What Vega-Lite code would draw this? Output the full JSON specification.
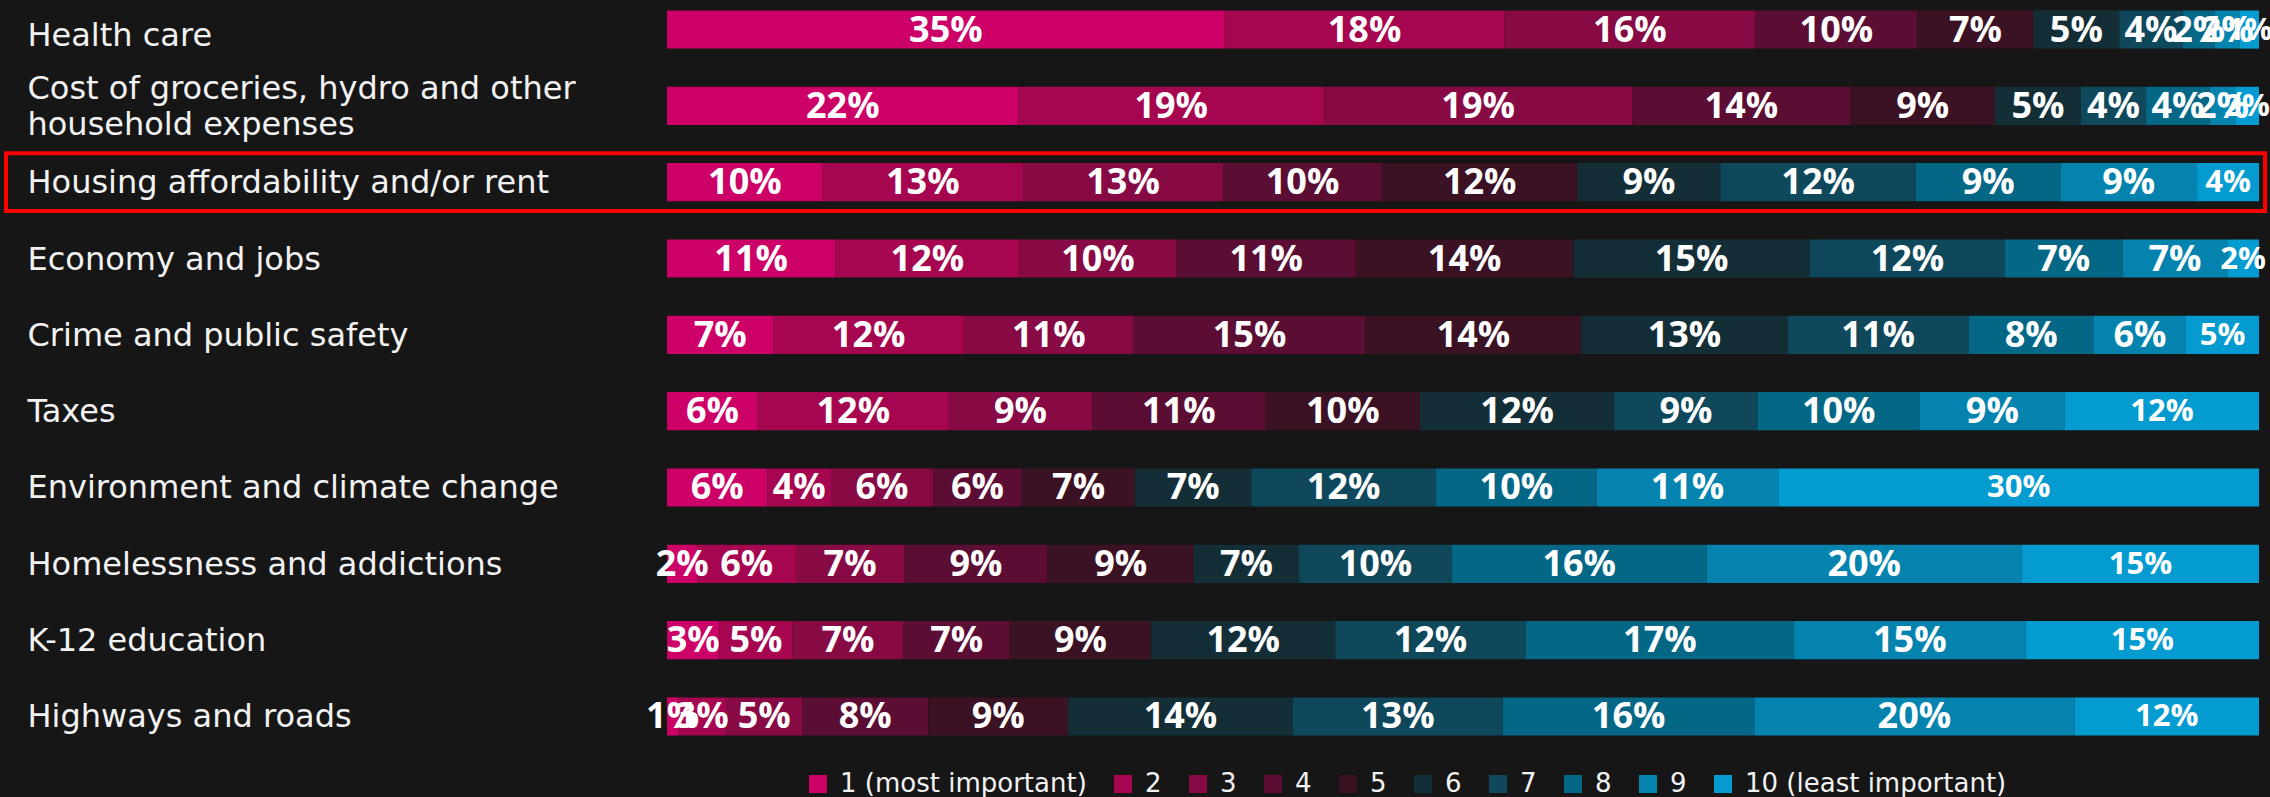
{
  "$schema": "https://vega.github.io/schema/vega-lite/v6.json",
  "autosize": "none",
  "padding": {"left": 0, "top": 0, "right": 0, "bottom": 51},
  "width": 2270,
  "height": 746,
  "background": "#161616",
  "config": {"view": {"stroke": null}},
  "datasets": {
    "ranks": [
      {"item": "Health care", "rank": 1, "pct": 35.1}, {"item": "Health care", "rank": 2, "pct": 17.6}, {"item": "Health care", "rank": 3, "pct": 15.8}, {"item": "Health care", "rank": 4, "pct": 10.2}, {"item": "Health care", "rank": 5, "pct": 7.3}, {"item": "Health care", "rank": 6, "pct": 5.4}, {"item": "Health care", "rank": 7, "pct": 4.0}, {"item": "Health care", "rank": 8, "pct": 2.0}, {"item": "Health care", "rank": 9, "pct": 1.6}, {"item": "Health care", "rank": 10, "pct": 1.2},
      {"item": "Cost of groceries, hydro and other household expenses", "rank": 1, "pct": 22.1}, {"item": "Cost of groceries, hydro and other household expenses", "rank": 2, "pct": 19.2}, {"item": "Cost of groceries, hydro and other household expenses", "rank": 3, "pct": 19.4}, {"item": "Cost of groceries, hydro and other household expenses", "rank": 4, "pct": 13.7}, {"item": "Cost of groceries, hydro and other household expenses", "rank": 5, "pct": 9.1}, {"item": "Cost of groceries, hydro and other household expenses", "rank": 6, "pct": 5.4}, {"item": "Cost of groceries, hydro and other household expenses", "rank": 7, "pct": 4.1}, {"item": "Cost of groceries, hydro and other household expenses", "rank": 8, "pct": 4.0}, {"item": "Cost of groceries, hydro and other household expenses", "rank": 9, "pct": 1.6}, {"item": "Cost of groceries, hydro and other household expenses", "rank": 10, "pct": 1.5},
      {"item": "Housing affordability and/or rent", "rank": 1, "pct": 9.8}, {"item": "Housing affordability and/or rent", "rank": 2, "pct": 12.6}, {"item": "Housing affordability and/or rent", "rank": 3, "pct": 12.6}, {"item": "Housing affordability and/or rent", "rank": 4, "pct": 10.0}, {"item": "Housing affordability and/or rent", "rank": 5, "pct": 12.3}, {"item": "Housing affordability and/or rent", "rank": 6, "pct": 9.0}, {"item": "Housing affordability and/or rent", "rank": 7, "pct": 12.3}, {"item": "Housing affordability and/or rent", "rank": 8, "pct": 9.1}, {"item": "Housing affordability and/or rent", "rank": 9, "pct": 8.6}, {"item": "Housing affordability and/or rent", "rank": 10, "pct": 3.9},
      {"item": "Economy and jobs", "rank": 1, "pct": 10.6}, {"item": "Economy and jobs", "rank": 2, "pct": 11.6}, {"item": "Economy and jobs", "rank": 3, "pct": 9.9}, {"item": "Economy and jobs", "rank": 4, "pct": 11.3}, {"item": "Economy and jobs", "rank": 5, "pct": 13.7}, {"item": "Economy and jobs", "rank": 6, "pct": 14.9}, {"item": "Economy and jobs", "rank": 7, "pct": 12.3}, {"item": "Economy and jobs", "rank": 8, "pct": 7.4}, {"item": "Economy and jobs", "rank": 9, "pct": 6.6}, {"item": "Economy and jobs", "rank": 10, "pct": 2.0},
      {"item": "Crime and public safety", "rank": 1, "pct": 6.7}, {"item": "Crime and public safety", "rank": 2, "pct": 12.0}, {"item": "Crime and public safety", "rank": 3, "pct": 10.7}, {"item": "Crime and public safety", "rank": 4, "pct": 14.6}, {"item": "Crime and public safety", "rank": 5, "pct": 13.6}, {"item": "Crime and public safety", "rank": 6, "pct": 13.0}, {"item": "Crime and public safety", "rank": 7, "pct": 11.4}, {"item": "Crime and public safety", "rank": 8, "pct": 7.9}, {"item": "Crime and public safety", "rank": 9, "pct": 5.8}, {"item": "Crime and public safety", "rank": 10, "pct": 4.6},
      {"item": "Taxes", "rank": 1, "pct": 5.7}, {"item": "Taxes", "rank": 2, "pct": 12.0}, {"item": "Taxes", "rank": 3, "pct": 9.0}, {"item": "Taxes", "rank": 4, "pct": 10.9}, {"item": "Taxes", "rank": 5, "pct": 9.7}, {"item": "Taxes", "rank": 6, "pct": 12.2}, {"item": "Taxes", "rank": 7, "pct": 9.0}, {"item": "Taxes", "rank": 8, "pct": 10.2}, {"item": "Taxes", "rank": 9, "pct": 9.1}, {"item": "Taxes", "rank": 10, "pct": 12.2},
      {"item": "Environment and climate change", "rank": 1, "pct": 6.3}, {"item": "Environment and climate change", "rank": 2, "pct": 4.0}, {"item": "Environment and climate change", "rank": 3, "pct": 6.4}, {"item": "Environment and climate change", "rank": 4, "pct": 5.6}, {"item": "Environment and climate change", "rank": 5, "pct": 7.1}, {"item": "Environment and climate change", "rank": 6, "pct": 7.3}, {"item": "Environment and climate change", "rank": 7, "pct": 11.6}, {"item": "Environment and climate change", "rank": 8, "pct": 10.1}, {"item": "Environment and climate change", "rank": 9, "pct": 11.4}, {"item": "Environment and climate change", "rank": 10, "pct": 30.2},
      {"item": "Homelessness and addictions", "rank": 1, "pct": 1.9}, {"item": "Homelessness and addictions", "rank": 2, "pct": 6.2}, {"item": "Homelessness and addictions", "rank": 3, "pct": 6.8}, {"item": "Homelessness and addictions", "rank": 4, "pct": 9.0}, {"item": "Homelessness and addictions", "rank": 5, "pct": 9.2}, {"item": "Homelessness and addictions", "rank": 6, "pct": 6.6}, {"item": "Homelessness and addictions", "rank": 7, "pct": 9.6}, {"item": "Homelessness and addictions", "rank": 8, "pct": 16.0}, {"item": "Homelessness and addictions", "rank": 9, "pct": 19.8}, {"item": "Homelessness and addictions", "rank": 10, "pct": 14.9},
      {"item": "K-12 education", "rank": 1, "pct": 3.3}, {"item": "K-12 education", "rank": 2, "pct": 4.6}, {"item": "K-12 education", "rank": 3, "pct": 7.0}, {"item": "K-12 education", "rank": 4, "pct": 6.7}, {"item": "K-12 education", "rank": 5, "pct": 8.9}, {"item": "K-12 education", "rank": 6, "pct": 11.6}, {"item": "K-12 education", "rank": 7, "pct": 12.0}, {"item": "K-12 education", "rank": 8, "pct": 16.9}, {"item": "K-12 education", "rank": 9, "pct": 14.6}, {"item": "K-12 education", "rank": 10, "pct": 14.7},
      {"item": "Highways and roads", "rank": 1, "pct": 0.7}, {"item": "Highways and roads", "rank": 2, "pct": 3.0}, {"item": "Highways and roads", "rank": 3, "pct": 4.8}, {"item": "Highways and roads", "rank": 4, "pct": 7.9}, {"item": "Highways and roads", "rank": 5, "pct": 8.8}, {"item": "Highways and roads", "rank": 6, "pct": 14.1}, {"item": "Highways and roads", "rank": 7, "pct": 13.2}, {"item": "Highways and roads", "rank": 8, "pct": 15.8}, {"item": "Highways and roads", "rank": 9, "pct": 20.1}, {"item": "Highways and roads", "rank": 10, "pct": 11.6}
    ],
    "highlight": [{"item": "Housing affordability and/or rent"}]
  },
  "layer": [
    {
      "data": {"name": "ranks"},
      "transform": [
        {"stack": "pct", "groupby": ["item"], "sort": [{"field": "rank", "order": "ascending"}], "offset": "normalize", "as": ["x0", "x1"]},
        {"calculate": "(datum.x0 + datum.x1) / 2", "as": "mid"},
        {"calculate": "round(datum.pct) + '%'", "as": "label"}
      ],
      "layer": [
        {
          "mark": {"type": "bar", "height": {"band": 1}},
          "encoding": {
            "x": {"field": "x0", "type": "quantitative", "scale": {"domain": [-0.419, 1.0069], "nice": false, "zero": false}, "axis": null},
            "x2": {"field": "x1"},
            "y": {
              "field": "item", "type": "nominal", "sort": null, "title": null,
              "scale": {"paddingInner": 0.5, "paddingOuter": 0.137},
              "axis": {
                "orient": "left", "domain": false, "ticks": false, "tickSize": 0, "grid": false,
                "labelAlign": "left", "labelPadding": -27, "labelLimit": 0,
                "labelFont": "DejaVu Sans", "labelFontSize": 32, "labelFontWeight": "normal", "labelColor": "#F2F2F2",
                "labelLineHeight": 36,
                "labelOffset": {"condition": [{"test": "datum.value == 'Health care'", "value": 6}, {"test": "datum.value == 'Cost of groceries, hydro and other household expenses'", "value": -17}], "value": 1},
                "labelExpr": "datum.label == 'Cost of groceries, hydro and other household expenses' ? ['Cost of groceries, hydro and other', 'household expenses'] : datum.label"
              }
            },
            "color": {
              "field": "rank", "type": "ordinal",
              "scale": {"domain": [1, 2, 3, 4, 5, 6, 7, 8, 9, 10], "range": ["#CC0066", "#A6054F", "#870A45", "#5C0D33", "#3B1124", "#142E37", "#0F475B", "#056786", "#0383AD", "#039BD0"]},
              "legend": {
                "title": null, "orient": "none", "legendX": 805, "legendY": 771, "direction": "horizontal",
                "symbolType": "square", "symbolSize": 324, "symbolStrokeWidth": 0,
                "labelFont": "DejaVu Sans", "labelFontSize": 26, "labelFontWeight": "normal", "labelColor": "#F2F2F2",
                "labelLimit": 0, "labelOffset": 9, "columnPadding": 23, "padding": 0,
                "labelExpr": "datum.label == '1' ? '1 (most important)' : datum.label == '10' ? '10 (least important)' : datum.label"
              }
            }
          }
        },
        {
          "mark": {"type": "text", "font": "Open Sans", "fontWeight": 700, "color": "#FFFFFF", "baseline": "middle", "align": "center", "dy": 1},
          "encoding": {
            "x": {"field": "mid", "type": "quantitative"},
            "y": {"field": "item", "type": "nominal", "sort": null},
            "text": {"field": "label"},
            "size": {"condition": {"test": "datum.rank == 10", "value": 31}, "value": 36}
          }
        }
      ]
    },
    {
      "data": {"name": "highlight"},
      "mark": {"type": "bar", "height": {"band": 1.51}, "fill": null, "fillOpacity": 0, "stroke": "#FF0000", "strokeWidth": 4},
      "encoding": {
        "x": {"datum": -0.4152, "type": "quantitative"},
        "x2": {"datum": 1.0038},
        "y": {"field": "item", "type": "nominal", "sort": null}
      }
    }
  ]
}
